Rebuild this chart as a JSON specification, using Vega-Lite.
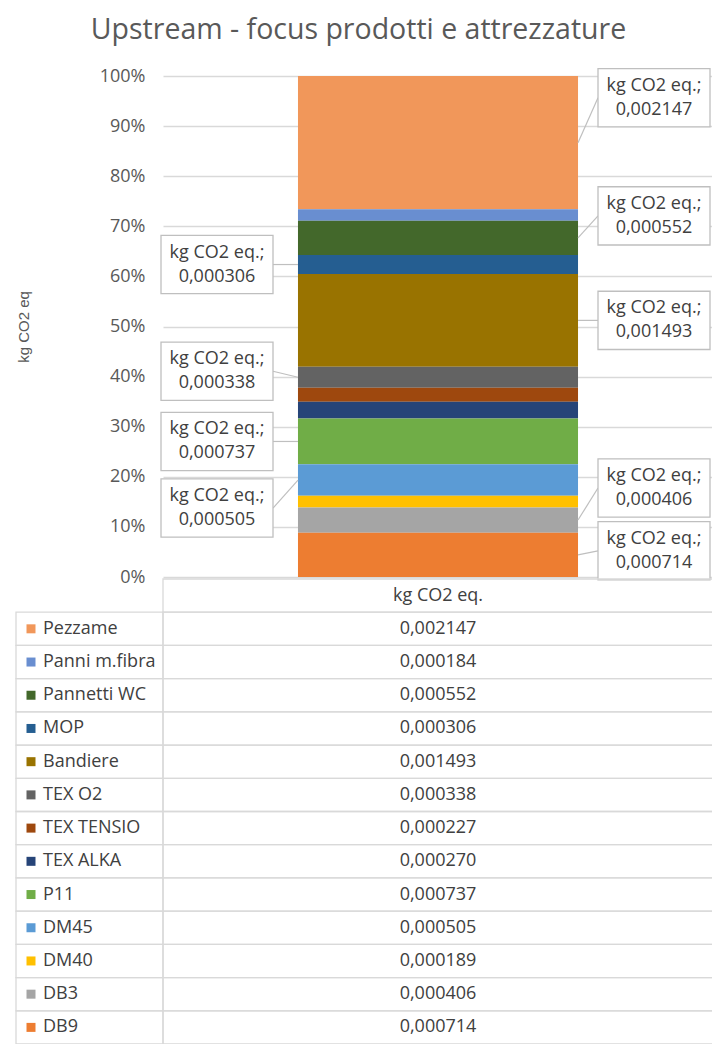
{
  "$schema": "https://vega.github.io/schema/vega-lite/v6.json",
  "padding": {"left": 15, "top": 16, "right": 0, "bottom": 0},
  "title": {"text": "Upstream - focus prodotti e attrezzature", "font": "Open Sans", "fontSize": 28.5, "fontWeight": "normal", "color": "#595959", "anchor": "middle", "offset": 21, "dx": -6},
  "config": {
    "view": {"stroke": null},
    "font": "Open Sans",
    "locale": {"number": {"decimal": ",", "thousands": ".", "grouping": [3], "currency": ["€", ""]}}
  },
  "datasets": {
    "d": [
      {"categoria": "Pezzame", "serie": "kg CO2 eq.", "valore": 0.002147},
      {"categoria": "Panni m.fibra", "serie": "kg CO2 eq.", "valore": 0.000184},
      {"categoria": "Pannetti WC", "serie": "kg CO2 eq.", "valore": 0.000552},
      {"categoria": "MOP", "serie": "kg CO2 eq.", "valore": 0.000306},
      {"categoria": "Bandiere", "serie": "kg CO2 eq.", "valore": 0.001493},
      {"categoria": "TEX O2", "serie": "kg CO2 eq.", "valore": 0.000338},
      {"categoria": "TEX TENSIO", "serie": "kg CO2 eq.", "valore": 0.000227},
      {"categoria": "TEX ALKA", "serie": "kg CO2 eq.", "valore": 0.000270},
      {"categoria": "P11", "serie": "kg CO2 eq.", "valore": 0.000737},
      {"categoria": "DM45", "serie": "kg CO2 eq.", "valore": 0.000505},
      {"categoria": "DM40", "serie": "kg CO2 eq.", "valore": 0.000189},
      {"categoria": "DB3", "serie": "kg CO2 eq.", "valore": 0.000406},
      {"categoria": "DB9", "serie": "kg CO2 eq.", "valore": 0.000714}
    ]
  },
  "columns": 2,
  "bounds": "flush",
  "spacing": {"row": 2, "column": 0},
  "concat": [
    {
      "width": 147, "height": 501,
      "data": {"values": []},
      "mark": "point"
    },
    {
      "width": 550, "height": 501,
      "data": {"name": "d"},
      "transform": [
        {"window": [{"op": "row_number", "as": "idx"}]},
        {"stack": "valore", "groupby": ["serie"], "sort": [{"field": "idx", "order": "descending"}], "offset": "normalize", "as": ["v0", "v1"]},
        {"calculate": "(datum.v0 + datum.v1) / 2", "as": "mid"}
      ],
      "encoding": {
        "x": {"field": "serie", "type": "nominal", "scale": {"paddingInner": 0, "paddingOuter": 0.482}, "axis": null}
      },
      "layer": [
        {
          "mark": {"type": "bar"},
          "encoding": {
            "y": {"field": "v0", "type": "quantitative", "scale": {"domain": [0, 1]},
              "axis": {"values": [0, 0.1, 0.2, 0.3, 0.4, 0.5, 0.6, 0.7, 0.8, 0.9, 1], "format": ".0%", "labelFont": "Open Sans", "labelFontSize": 18, "labelColor": "#595959", "labelPadding": 18, "ticks": false, "domain": false, "grid": true, "gridColor": "#d9d9d9", "gridWidth": 1.3, "title": "kg CO2 eq", "titleFont": "Liberation Sans", "titleFontSize": 15, "titleFontWeight": "normal", "titleColor": "#595959", "titleX": -132}},
            "y2": {"field": "v1"},
            "color": {"field": "categoria", "type": "nominal", "legend": null,
              "scale": {"domain": ["Pezzame","Panni m.fibra","Pannetti WC","MOP","Bandiere","TEX O2","TEX TENSIO","TEX ALKA","P11","DM45","DM40","DB3","DB9"],
                        "range": ["#F1975A","#698ED0","#43682B","#255E91","#997300","#636363","#9E480E","#264478","#70AD47","#5B9BD5","#FFC000","#A5A5A5","#ED7D31"]}}
          }
        },
        {
          "transform": [{"filter": {"field": "categoria", "oneOf": ["Pezzame","Pannetti WC","MOP","Bandiere","TEX O2","P11","DM45","DB3","DB9"]}}],
          "mark": {"type": "rule", "color": "#bfbfbf", "strokeWidth": 1.2,
            "xOffset": {"expr": "indexof(['MOP','TEX O2','P11','DM45'], datum.categoria) >= 0 ? -140 : 140"},
            "x2Offset": {"expr": "indexof(['MOP','TEX O2','P11','DM45'], datum.categoria) >= 0 ? -165 : 160"},
            "y2Offset": {"expr": "datum.categoria === 'Pezzame' ? -45 : datum.categoria === 'Pannetti WC' ? -22 : datum.categoria === 'TEX O2' ? -6 : datum.categoria === 'DM45' ? 28 : datum.categoria === 'DB3' ? -32 : datum.categoria === 'DB9' ? -4 : 0"}},
          "encoding": {
            "x2": {"field": "serie"},
            "y": {"field": "mid", "type": "quantitative"},
            "y2": {"field": "mid"}
          }
        },
        {
          "transform": [{"filter": {"field": "categoria", "oneOf": ["Pezzame","Pannetti WC","MOP","Bandiere","TEX O2","P11","DM45","DB3","DB9"]}}],
          "mark": {"type": "point", "shape": "M-1,-0.52H1V0.52H-1Z", "size": 12544, "filled": true, "fill": "white", "stroke": "#bfbfbf", "strokeWidth": 1.3, "opacity": 1,
            "xOffset": {"expr": "indexof(['MOP','TEX O2','P11','DM45'], datum.categoria) >= 0 ? -221 : 216"},
            "yOffset": {"expr": "datum.categoria === 'Pezzame' ? -45 : datum.categoria === 'Pannetti WC' ? -22 : datum.categoria === 'TEX O2' ? -6 : datum.categoria === 'DM45' ? 28 : datum.categoria === 'DB3' ? -32 : datum.categoria === 'DB9' ? -4 : 0"}},
          "encoding": {
            "y": {"field": "mid", "type": "quantitative"}
          }
        },
        {
          "transform": [
            {"filter": {"field": "categoria", "oneOf": ["Pezzame","Pannetti WC","MOP","Bandiere","TEX O2","P11","DM45","DB3","DB9"]}},
            {"calculate": "datum.serie + ';\\n' + replace(format(datum.valore, '.6f'), '.', ',')", "as": "etichetta"}
          ],
          "mark": {"type": "text", "font": "Open Sans", "fontSize": 18, "color": "#404040", "lineBreak": "\n", "lineHeight": 24, "align": "center", "baseline": "middle", "dy": -12,
            "xOffset": {"expr": "indexof(['MOP','TEX O2','P11','DM45'], datum.categoria) >= 0 ? -221 : 216"},
            "yOffset": {"expr": "datum.categoria === 'Pezzame' ? -45 : datum.categoria === 'Pannetti WC' ? -22 : datum.categoria === 'TEX O2' ? -6 : datum.categoria === 'DM45' ? 28 : datum.categoria === 'DB3' ? -32 : datum.categoria === 'DB9' ? -4 : 0"}},
          "encoding": {
            "y": {"field": "mid", "type": "quantitative"},
            "text": {"field": "etichetta", "type": "nominal"}
          }
        }
      ]
    },
    {
      "width": 147, "height": 465,
      "data": {"name": "d"},
      "encoding": {
        "y": {"field": "categoria", "type": "nominal", "axis": null,
          "scale": {"domain": ["kg CO2 eq.","Pezzame","Panni m.fibra","Pannetti WC","MOP","Bandiere","TEX O2","TEX TENSIO","TEX ALKA","P11","DM45","DM40","DB3","DB9"], "paddingInner": 0, "paddingOuter": 0}},
        "x": {"field": "serie", "type": "nominal", "axis": null, "scale": {"paddingInner": 0, "paddingOuter": 0}}
      },
      "layer": [
        {"mark": {"type": "rect", "fill": "transparent", "stroke": "#d9d9d9", "strokeWidth": 1.3}},
        {"mark": {"type": "point", "shape": "square", "filled": true, "size": 81, "opacity": 1, "xOffset": 15},
         "encoding": {"x": {"field": "serie", "type": "nominal", "bandPosition": 0},
           "color": {"field": "categoria", "type": "nominal", "legend": null,
              "scale": {"domain": ["Pezzame","Panni m.fibra","Pannetti WC","MOP","Bandiere","TEX O2","TEX TENSIO","TEX ALKA","P11","DM45","DM40","DB3","DB9"],
                        "range": ["#F1975A","#698ED0","#43682B","#255E91","#997300","#636363","#9E480E","#264478","#70AD47","#5B9BD5","#FFC000","#A5A5A5","#ED7D31"]}}}},
        {"mark": {"type": "text", "align": "left", "baseline": "middle", "dx": 27, "font": "Open Sans", "fontSize": 18, "color": "#404040"},
         "encoding": {"x": {"field": "serie", "type": "nominal", "bandPosition": 0}, "text": {"field": "categoria", "type": "nominal"}}}
      ]
    },
    {
      "width": 550, "height": 465,
      "data": {"name": "d"},
      "encoding": {
        "y": {"field": "categoria", "type": "nominal", "axis": null,
          "scale": {"domain": ["kg CO2 eq.","Pezzame","Panni m.fibra","Pannetti WC","MOP","Bandiere","TEX O2","TEX TENSIO","TEX ALKA","P11","DM45","DM40","DB3","DB9"], "paddingInner": 0, "paddingOuter": 0}},
        "x": {"field": "serie", "type": "nominal", "axis": null, "scale": {"paddingInner": 0, "paddingOuter": 0}}
      },
      "layer": [
        {"mark": {"type": "rect", "fill": "transparent", "stroke": "#d9d9d9", "strokeWidth": 1.3}},
        {"mark": {"type": "text", "align": "center", "baseline": "middle", "font": "Open Sans", "fontSize": 18, "color": "#404040"},
         "encoding": {"text": {"field": "valore", "type": "quantitative", "format": ".6f"}}},
        {"transform": [{"aggregate": [{"op": "count", "as": "n"}], "groupby": ["serie"]}],
         "layer": [
           {"mark": {"type": "rect", "fill": "transparent", "stroke": "#d9d9d9", "strokeWidth": 1.3}, "encoding": {"y": {"field": "serie", "type": "nominal"}}},
           {"mark": {"type": "text", "align": "center", "baseline": "middle", "font": "Open Sans", "fontSize": 18, "color": "#404040"},
            "encoding": {"y": {"field": "serie", "type": "nominal"}, "text": {"field": "serie", "type": "nominal"}}}
         ]}
      ]
    }
  ]
}
